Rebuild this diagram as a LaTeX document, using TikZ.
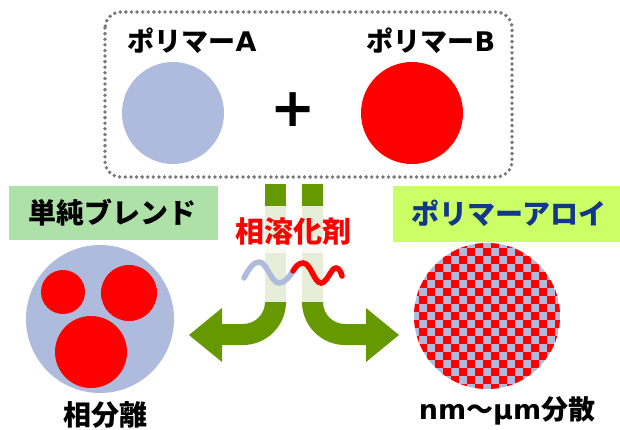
\documentclass[tikz,border=0pt]{standalone}
\usepackage{fontspec}
\newfontfamily\jpf{Noto Sans CJK JP}
\newfontfamily\latf{DejaVu Sans}
\definecolor{lav}{RGB}{174,187,220}
\definecolor{dgreen}{RGB}{102,153,0}
\definecolor{lbar}{RGB}{230,237,216}
\definecolor{wbar}{RGB}{248,250,243}
\definecolor{gbox}{RGB}{174,225,168}
\definecolor{ybox}{RGB}{204,255,102}
\definecolor{navy}{RGB}{18,55,140}
\definecolor{dotgray}{RGB}{120,120,120}
\newcommand{\La}[1]{{\latf\bfseries #1}}
\tikzset{
  lbl/.style={inner sep=0pt, font=\jpf\bfseries\fontsize{28}{30}\selectfont},
  wave/.style={line width=5.5pt, line cap=round},
}
\begin{document}
\begin{tikzpicture}[x=1pt,y=-1pt]
\useasboundingbox (0,0) rectangle (620,429);
% top dotted frame
\draw[dotgray, line width=3.8pt, line cap=round, dash pattern=on 0pt off 5.6pt, rounded corners=16pt]
  (105,12) rectangle (512,177);
\node[lbl, font=\jpf\bfseries\fontsize{27}{30}\selectfont] (pa) at (192,41) {ポリマー\La{A}};
\node[lbl, font=\jpf\bfseries\fontsize{27}{30}\selectfont] (pb) at (431,41) {ポリマー\La{B}};
\fill[lav] (173,113) circle (51);
\fill[red] (412,113) circle (51);
\node[inner sep=0pt, font=\latf\bfseries\fontsize{54}{60}\selectfont] (plus) at (293,110) {+};
% vertical bars
\fill[dgreen] (265,184) rectangle (286,206);
\fill[dgreen] (302,184) rectangle (323,206);
\fill[lbar] (265,206) rectangle (286,302);
\fill[lbar] (302,206) rectangle (323,302);
\fill[wbar] (265,238) rectangle (286,253);
\fill[wbar] (302,238) rectangle (323,253);
% left curved arrow
\fill[dgreen] (265,302) .. controls (265,314.2) and (255.2,324) .. (243,324)
  -- (222,324) -- (222,308) -- (189,335) -- (222,362) -- (222,345) -- (243,345)
  .. controls (266.7,345) and (286,325.7) .. (286,302) -- cycle;
% right curved arrow
\fill[dgreen] (323,302) .. controls (323,314.2) and (332.8,324) .. (345,324)
  -- (366,324) -- (366,308) -- (399,335) -- (366,362) -- (366,345) -- (345,345)
  .. controls (321.3,345) and (302,325.7) .. (302,302) -- cycle;
% compatibilizer wave
\draw[wave, lav] (244,278) .. controls (249,268) and (254,262) .. (259,262)
  .. controls (267,262) and (271,283) .. (279,283)
  .. controls (285,283) and (289,277) .. (293,271);
\draw[wave, red] (293,271) .. controls (296,266) and (299,263) .. (303,263)
  .. controls (311,263) and (314,283) .. (321,283)
  .. controls (327,283) and (331,268) .. (336,268)
  .. controls (339,268) and (341,272) .. (342,276);
\node[lbl, red, font=\jpf\bfseries\fontsize{29}{30}\selectfont] (comp) at (293,232) {相溶化剤};
% left: simple blend
\fill[gbox] (9,186) rectangle (218,240);
\node[lbl] (sb) at (112,213) {単純ブレンド};
\fill[lav] (100,319) circle (74);
\fill[red] (63,292) circle (22);
\fill[red] (129,293) circle (28);
\fill[red] (91,352) circle (36);
\node[lbl] (ps) at (105,415) {相分離};
% right: polymer alloy
\fill[ybox] (393,186) rectangle (620,242);
\node[lbl, navy] (pal) at (509,213) {ポリマーアロイ};
\begin{scope}
  \clip (487,316) circle (73);
  \fill[lav] (487,316) circle (73);
  \foreach \i in {0,...,18}{
    \foreach \j in {0,...,18}{
      \pgfmathtruncatemacro{\pp}{mod(\i+\j,2)}
      \ifnum\pp=0
        \fill[red] ({411+8*\i},{240+8*\j}) rectangle ++(8,8);
      \fi
    }
  }
\end{scope}
\node[lbl, font=\jpf\bfseries\fontsize{27}{30}\selectfont] (disp) at (507,411) {\La{nm}〜\La{μm}分散};
\end{tikzpicture}
\end{document}
